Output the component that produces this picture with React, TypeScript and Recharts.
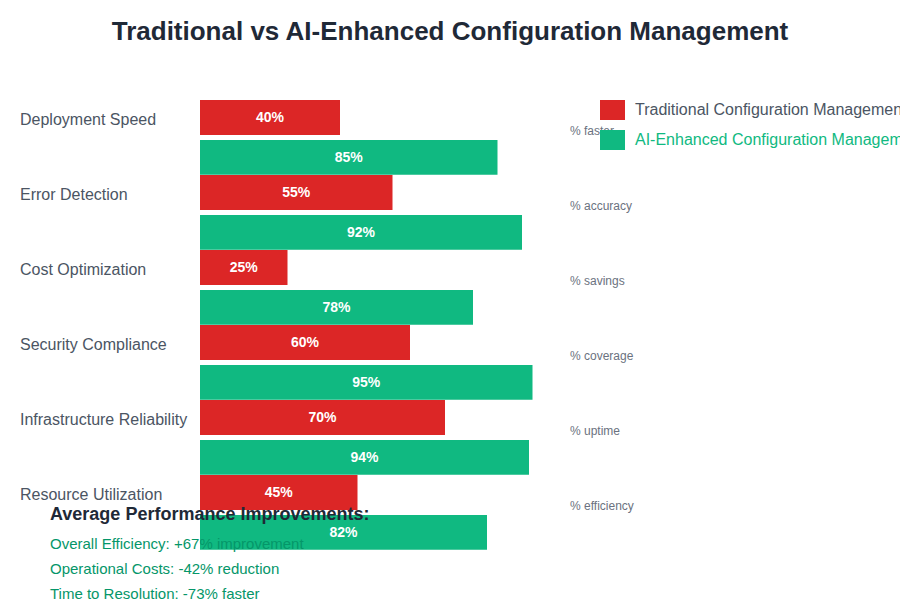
import React from "react";
import { BarChart, Bar, XAxis, YAxis, LabelList } from "recharts";

const categories = [
  "Deployment Speed",
  "Error Detection",
  "Cost Optimization",
  "Security Compliance",
  "Infrastructure Reliability",
  "Resource Utilization",
];
const traditional = [40, 55, 25, 60, 70, 45];
const aiEnhanced = [85, 92, 78, 95, 94, 82];
const units = ["% faster", "% accuracy", "% savings", "% coverage", "% uptime", "% efficiency"];

const summary = [
  "Overall Efficiency: +67% improvement",
  "Operational Costs: -42% reduction",
  "Time to Resolution: -73% faster",
];

const RED = "#dc2626";
const GREEN = "#10b981";
const FONT = "'Liberation Sans', Arial, sans-serif";

const data = categories.map((name, i) => ({
  name,
  traditional: traditional[i],
  ai: aiEnhanced[i],
  unit: units[i],
}));

// draws the category label on the left and the unit text on the right
const CategoryTick = (props: any) => {
  const { y, payload, index } = props;
  return (
    <g>
      <text x={20} y={y - 18.5} dy="0.35em" textAnchor="start" fontSize={16} fill="#4b5563" fontFamily={FONT}>
        {payload.value}
      </text>
      <text x={570} y={y - 6.5} dy="0.35em" textAnchor="start" fontSize={12} fill="#6b7280" fontFamily={FONT}>
        {units[index]}
      </text>
    </g>
  );
};

const LegendBox = () => (
  <div
    style={{
      position: "absolute",
      left: 600,
      top: 100,
      fontFamily: FONT,
      fontSize: 16,
      whiteSpace: "nowrap",
    }}
  >
    <div style={{ display: "flex", alignItems: "center", height: 20, marginBottom: 10 }}>
      <span style={{ width: 25, height: 20, background: RED, marginRight: 10, display: "inline-block" }} />
      <span style={{ color: "#4b5563" }}>Traditional Configuration Management</span>
    </div>
    <div style={{ display: "flex", alignItems: "center", height: 20 }}>
      <span style={{ width: 25, height: 20, background: GREEN, marginRight: 10, display: "inline-block" }} />
      <span style={{ color: GREEN }}>AI-Enhanced Configuration Management</span>
    </div>
  </div>
);

export default function App() {
  return (
    <div
      style={{
        position: "absolute",
        left: 0,
        top: 0,
        width: 900,
        height: 600,
        overflow: "hidden",
        background: "#ffffff",
        fontFamily: FONT,
      }}
    >
      <div
        style={{
          position: "absolute",
          top: 12,
          left: 0,
          width: 900,
          textAlign: "center",
          fontSize: 26,
          fontWeight: 700,
          color: "#1f2937",
          lineHeight: "38px",
        }}
      >
        Traditional vs AI-Enhanced Configuration Management
      </div>

      <div style={{ position: "absolute", left: 0, top: 0 }}>
        <BarChart
          width={900}
          height={600}
          data={data}
          layout="vertical"
          margin={{ top: 100, right: 350, bottom: 50, left: 0 }}
          barSize={34.9}
          barGap={5}
          barCategoryGap={0}
        >
          <XAxis type="number" domain={[0, 100]} hide />
          <YAxis
            type="category"
            dataKey="name"
            width={200}
            axisLine={false}
            tickLine={false}
            tick={<CategoryTick />}
            interval={0}
          />
          <Bar dataKey="traditional" fill={RED} isAnimationActive={false}>
            <LabelList
              dataKey="traditional"
              position="center"
              fill="#ffffff"
              fontSize={14}
              fontWeight={700}
              fontFamily={FONT}
              formatter={(v: any) => `${v}%`}
            />
          </Bar>
          <Bar dataKey="ai" fill={GREEN} isAnimationActive={false}>
            <LabelList
              dataKey="ai"
              position="center"
              fill="#ffffff"
              fontSize={14}
              fontWeight={700}
              fontFamily={FONT}
              formatter={(v: any) => `${v}%`}
            />
          </Bar>
        </BarChart>
      </div>

      <LegendBox />

      <div style={{ position: "absolute", left: 50, top: 502 }}>
        <div style={{ fontSize: 18, fontWeight: 700, color: "#1f2937", lineHeight: "24px", marginBottom: 5 }}>
          Average Performance Improvements:
        </div>
        {summary.map((s) => (
          <div key={s} style={{ fontSize: 15, color: "#059669", lineHeight: "25px" }}>
            {s}
          </div>
        ))}
      </div>
    </div>
  );
}
